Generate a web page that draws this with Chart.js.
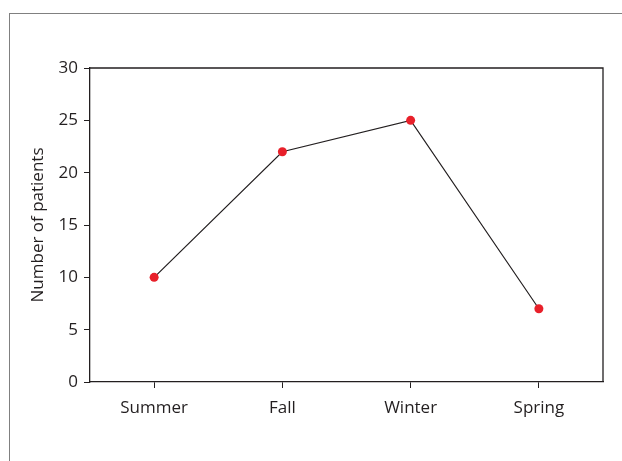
<!DOCTYPE html>
<html><head><meta charset="utf-8">
<script src="https://cdn.jsdelivr.net/npm/chart.js@4"></script>
<style>
html,body{margin:0;padding:0;background:#fff;}
#wrap{position:relative;width:622px;height:461px;overflow:hidden;}
#frame{position:absolute;left:9px;top:13px;width:700px;height:600px;border-left:1px solid #808080;border-top:1px solid #808080;}
canvas{position:absolute;left:0;top:0;}
</style></head><body>
<div id="wrap"><div id="frame"></div><canvas id="c" width="622" height="461"></canvas></div>
<script>
const categories = ["Summer","Fall","Winter","Spring"];
const patients = [10,22,25,7];
const yTicks = [0,5,10,15,20,25,30];

const FONT = {family:"'Open Sans', sans-serif", size:17};
const boxPlugin = {
  id:'box',
  afterDraw(chart){
    const {ctx, chartArea:a} = chart;
    ctx.save();
    ctx.strokeStyle='#231f20'; ctx.lineWidth=1.3;
    ctx.beginPath();
    ctx.moveTo(a.left, a.top); ctx.lineTo(a.right, a.top); ctx.lineTo(a.right, a.bottom);
    ctx.stroke();
    ctx.restore();
  }
};
new Chart(document.getElementById('c'), {
  type:'line',
  data:{labels:categories, datasets:[{data:patients, borderColor:'#231f20', borderWidth:1.2,
    pointBackgroundColor:'#e8202a', pointBorderWidth:0, pointRadius:4.5, pointHoverRadius:4.5, tension:0}]},
  options:{
    responsive:false, animation:false, devicePixelRatio:1,
    layout:{padding:{left:0,right:19,top:68,bottom:0}},
    plugins:{legend:{display:false}, tooltip:{enabled:false}},
    scales:{
      x:{offset:true, grid:{display:true, drawOnChartArea:false, drawTicks:true, tickLength:6, tickColor:'#231f20', offset:false},
        border:{display:true,color:'#231f20',width:1.3},
        ticks:{color:'#231f20', font:FONT, padding:10},
        afterFit(s){s.height=79;}},
      y:{min:0,max:30,
        afterBuildTicks(s){s.ticks=yTicks.map(v=>({value:v}));},
        grid:{display:true, drawOnChartArea:false, drawTicks:true, tickLength:6, tickColor:'#231f20'},
        border:{display:true,color:'#231f20',width:1.3},
        ticks:{color:'#231f20', font:FONT, padding:6},
        title:{display:true, text:'Number of patients', color:'#231f20', font:FONT, padding:{top:28,bottom:0}},
        afterFit(s){s.width=90;}}
    }
  },
  plugins:[boxPlugin]
});
</script></body></html>
